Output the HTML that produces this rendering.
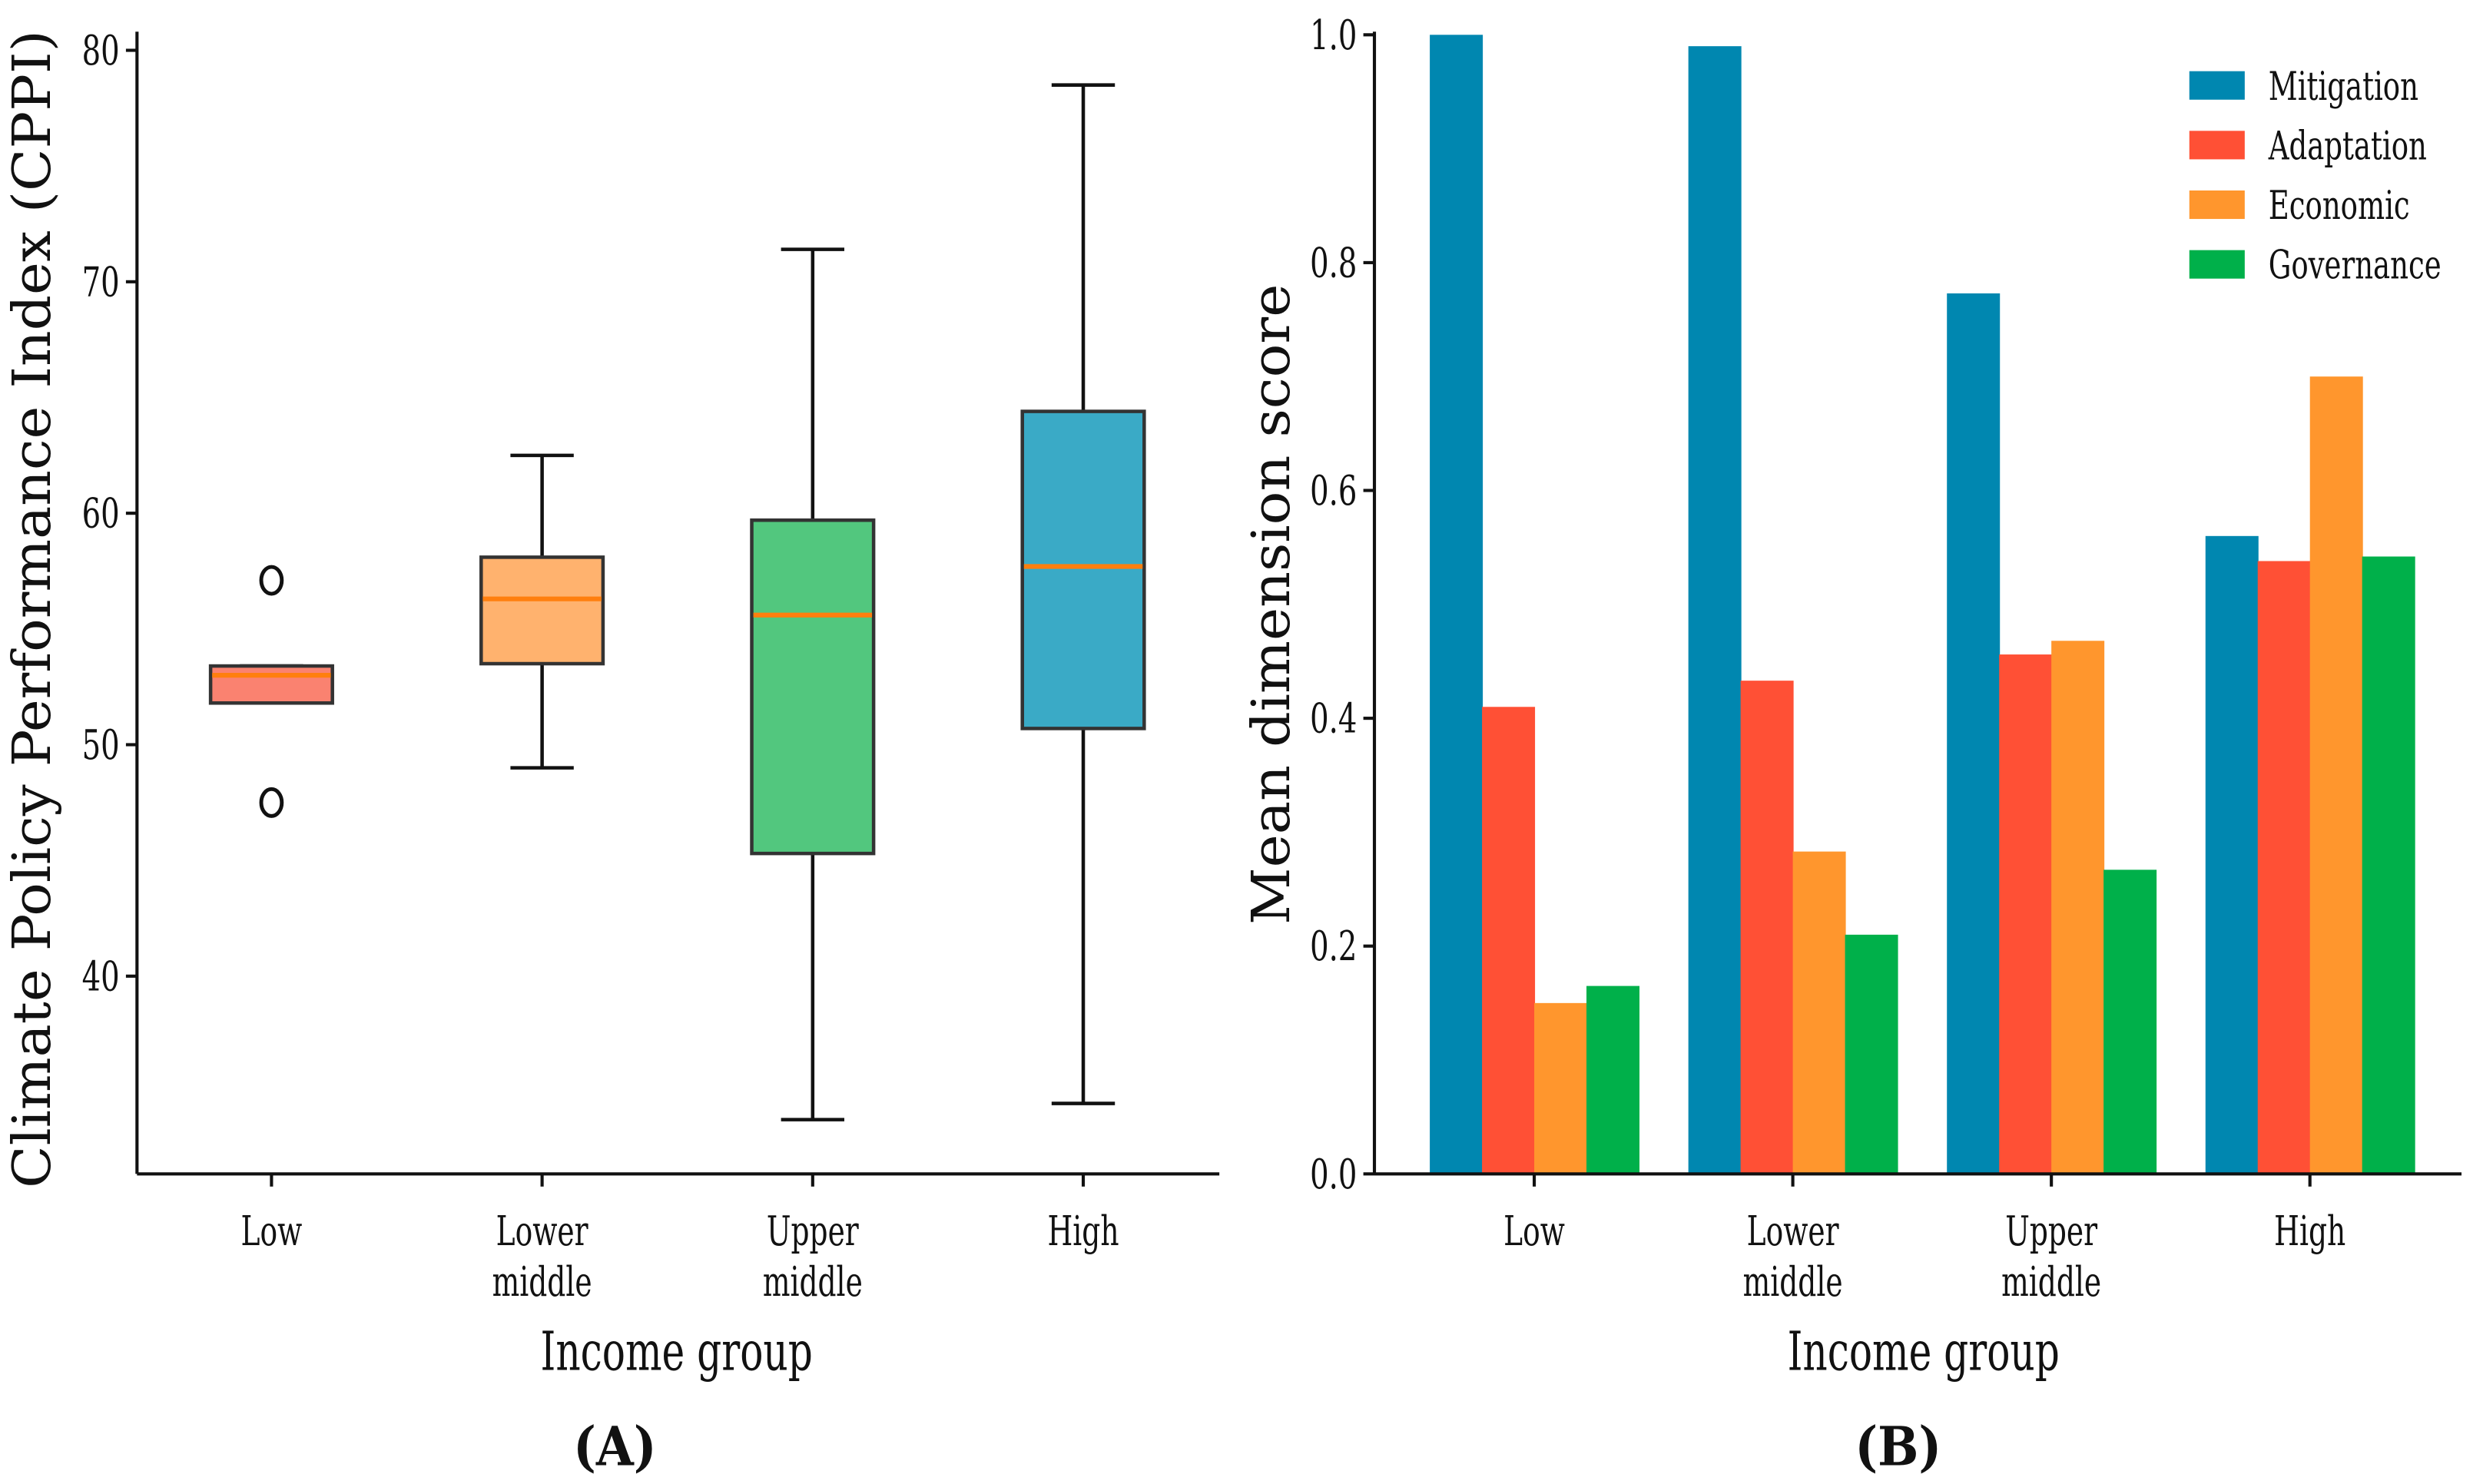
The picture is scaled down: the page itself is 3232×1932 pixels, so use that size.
<!DOCTYPE html>
<html><head><meta charset="utf-8"><style>
html,body{margin:0;padding:0;background:#fff}
svg{display:block}
text{font-family:"DejaVu Serif Condensed","DejaVu Serif","Liberation Serif",serif;fill:#111}
</style></head><body>
<svg id="fig" width="3232" height="1932" viewBox="0 0 1568 938" xmlns="http://www.w3.org/2000/svg">
<g id="pa"></g>
<g id="pb"></g>
</svg>
<script>
const boxCats = ["Low","Lower middle","Upper middle","High"];
const boxQ1 = [51.8,53.5,45.3,50.7];
const boxMed = [53.0,56.3,55.6,57.7];
const boxQ3 = [53.4,58.1,59.7,64.4];
const boxWLo = [51.8,49.0,33.8,34.5];
const boxWHi = [53.4,62.5,71.4,78.5];
const boxOutliers = [[57.1,47.5],[],[],[]];
const boxColors = ["#fa8270","#ffb26e","#52c77e","#3aaac6"];
const yTicksA = [40,50,60,70,80];

const barCats = ["Low","Lower middle","Upper middle","High"];
const seriesNames = ["Mitigation","Adaptation","Economic","Governance"];
const mitigation = [1.0,0.99,0.773,0.56];
const adaptation = [0.41,0.433,0.456,0.538];
const economic = [0.15,0.283,0.468,0.70];
const governance = [0.165,0.21,0.267,0.542];
const seriesColors = ["#0087b0","#ff5035","#ff962d","#00b04a"];
const yTicksB = [0.0,0.2,0.4,0.6,0.8,1.0];

const NS="http://www.w3.org/2000/svg";
function mk(parent,tag,attrs,txt){const e=document.createElementNS(NS,tag);for(const k in attrs)e.setAttribute(k,attrs[k]);if(txt!==undefined)e.textContent=txt;parent.appendChild(e);return e;}
function cond(e,f){const L=e.getComputedTextLength();e.setAttribute('textLength',(L*f).toFixed(1));e.setAttribute('lengthAdjust','spacingAndGlyphs');}

// Panel A
const pa=document.getElementById('pa');
const ax0=86, ax1=770, ay0=742;
const yA=v=>617-(v-40)*14.63;
const xA=i=>171+i*171;
let e;
e=mk(pa,'line',{x1:ax0,y1:20,x2:ax0,y2:ay0,stroke:'#111','stroke-width':2});


e=mk(pa,'line',{x1:ax0,y1:ay0,x2:ax1,y2:ay0,stroke:'#111','stroke-width':2});


yTicksA.forEach(t=>{
  mk(pa,'line',{x1:ax0-7,y1:yA(t),x2:ax0,y2:yA(t),stroke:'#111','stroke-width':2});
  e=mk(pa,'text',{x:ax0-11,y:yA(t)+9,'text-anchor':'end','font-size':26},String(t));
  
  
  cond(e,0.8);
});
boxCats.forEach((c,i)=>{
  const x=xA(i);
  mk(pa,'line',{x1:x,y1:ay0,x2:x,y2:ay0+8,stroke:'#111','stroke-width':2});
  const parts=c.split(' ');
  parts.forEach((p,j)=>{
    e=mk(pa,'text',{x:x,y:787+j*32,'text-anchor':'middle','font-size':26},p);
    
    
    cond(e,0.78);
  });
  const w=77,cw=40;
  mk(pa,'line',{x1:x,y1:yA(boxWHi[i]),x2:x,y2:yA(boxQ3[i]),stroke:'#111','stroke-width':2.2});
  mk(pa,'line',{x1:x,y1:yA(boxQ1[i]),x2:x,y2:yA(boxWLo[i]),stroke:'#111','stroke-width':2.2});
  mk(pa,'line',{x1:x-cw/2,y1:yA(boxWHi[i]),x2:x+cw/2,y2:yA(boxWHi[i]),stroke:'#111','stroke-width':2.2});
  mk(pa,'line',{x1:x-cw/2,y1:yA(boxWLo[i]),x2:x+cw/2,y2:yA(boxWLo[i]),stroke:'#111','stroke-width':2.2});
  e=mk(pa,'rect',{x:x-w/2,y:yA(boxQ3[i]),width:w,height:yA(boxQ1[i])-yA(boxQ3[i]),fill:boxColors[i],stroke:'#333','stroke-width':2.2});
  
  
  mk(pa,'line',{x1:x-w/2+1,y1:yA(boxMed[i]),x2:x+w/2-1,y2:yA(boxMed[i]),stroke:'#ff7f0e','stroke-width':3});
  boxOutliers[i].forEach(o=>{
    e=mk(pa,'ellipse',{cx:x,cy:yA(o),rx:6.5,ry:8.5,fill:'none',stroke:'#111','stroke-width':2.4});
    
    
  });
});
e=mk(pa,'text',{x:427,y:866,'text-anchor':'middle','font-size':34},'Income group');


e.setAttribute('textLength','172');
e.setAttribute('lengthAdjust','spacingAndGlyphs');
e=mk(pa,'text',{x:0,y:0,'text-anchor':'middle','font-size':33,transform:'translate(31,385) rotate(-90)','font-family':'DejaVu Serif, serif',textLength:732,lengthAdjust:'spacingAndGlyphs'},'Climate Policy Performance Index (CPPI)');


e=mk(pa,'text',{x:388,y:926,'text-anchor':'middle','font-size':34,'font-weight':'bold','font-family':'Liberation Serif, serif'},'(A)');



// Panel B
const pb=document.getElementById('pb');
const bx0=868,bx1=1555,by0=742;
const yB=v=>742-v*720;
const xB=i=>969+i*163.4;
const series=[mitigation,adaptation,economic,governance];
e=mk(pb,'line',{x1:bx0,y1:20,x2:bx0,y2:by0,stroke:'#111','stroke-width':2});


yTicksB.forEach(t=>{
  mk(pb,'line',{x1:bx0-7,y1:yB(t),x2:bx0,y2:yB(t),stroke:'#111','stroke-width':2});
  e=mk(pb,'text',{x:bx0-11,y:yB(t)+9,'text-anchor':'end','font-size':26},t.toFixed(1));
  
  
  cond(e,0.8);
});
const bw=33;
barCats.forEach((c,i)=>{
  const x=xB(i);
  series.forEach((s,k)=>{
    e=mk(pb,'rect',{x:x-2*bw+k*bw,y:yB(s[i]),width:bw+0.5,height:yB(0)-yB(s[i]),fill:seriesColors[k]});
    
    
  });
  mk(pb,'line',{x1:x,y1:by0,x2:x,y2:by0+8,stroke:'#111','stroke-width':2});
  c.split(' ').forEach((p,j)=>{
    e=mk(pb,'text',{x:x,y:787+j*32,'text-anchor':'middle','font-size':26},p);
    
    
    cond(e,0.78);
  });
});
e=mk(pb,'line',{x1:bx0,y1:by0,x2:bx1,y2:by0,stroke:'#111','stroke-width':2});


seriesNames.forEach((n,k)=>{
  const y=54+k*37.7;
  e=mk(pb,'rect',{x:1383,y:y-9,width:35,height:18,fill:seriesColors[k]});
  
  
  e=mk(pb,'text',{x:1433,y:y+9,'font-size':25},n);
  
  
  cond(e,0.8);
});
e=mk(pb,'text',{x:1215,y:866,'text-anchor':'middle','font-size':34},'Income group');


e.setAttribute('textLength','172');
e.setAttribute('lengthAdjust','spacingAndGlyphs');
e=mk(pb,'text',{x:0,y:0,'text-anchor':'middle','font-size':33,transform:'translate(814,382) rotate(-90)','font-family':'DejaVu Serif, serif',textLength:405,lengthAdjust:'spacingAndGlyphs'},'Mean dimension score');


e=mk(pb,'text',{x:1199,y:926,'text-anchor':'middle','font-size':34,'font-weight':'bold','font-family':'Liberation Serif, serif'},'(B)');


</script>
</body></html>
